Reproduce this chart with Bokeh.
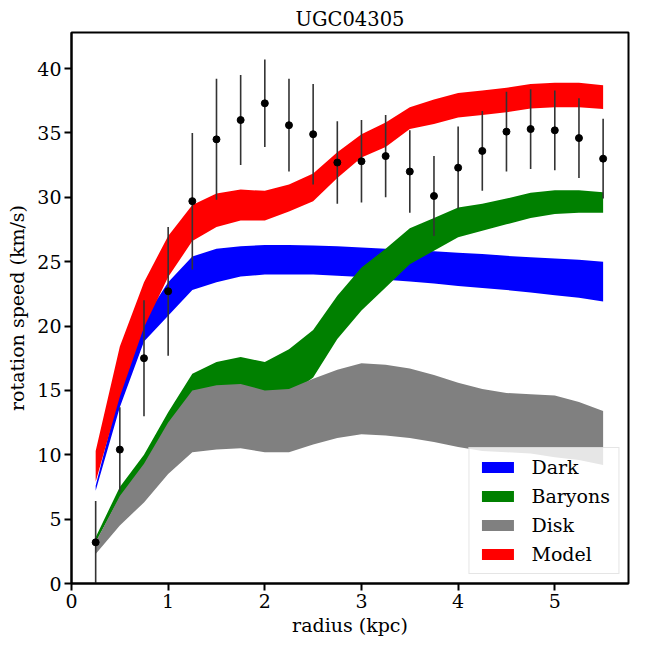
import numpy as np
from bokeh.plotting import figure
from bokeh.models import ColumnDataSource, Range1d, FixedTicker, Legend, LegendItem
from bokeh.embed import file_html
from bokeh.resources import INLINE

# radii (kpc)
radius = [0.25, 0.5, 0.75, 1.0, 1.25, 1.5, 1.75, 2.0, 2.25, 2.5, 2.75,
          3.0, 3.25, 3.5, 3.75, 4.0, 4.25, 4.5, 4.75, 5.0, 5.25, 5.5]

# observed rotation speed and errors (km/s)
v_obs = [3.2, 10.4, 17.5, 22.7, 29.7, 34.5, 36.0, 37.3, 35.6, 34.9, 32.7,
         32.8, 33.2, 32.0, 30.1, 32.3, 33.6, 35.1, 35.3, 35.2, 34.6, 33.0]
v_err = [3.2, 3.3, 4.5, 5.0, 5.3, 4.7, 3.5, 3.4, 3.6, 3.9, 3.2,
         3.2, 3.2, 3.2, 3.1, 3.2, 3.1, 3.1, 3.1, 3.1, 3.1, 3.1]

# bands (lower / upper)
dark_lo = [7.2, 13.7, 18.8, 20.8, 22.8, 23.4, 23.85, 24.0, 24.0, 24.0, 23.9,
           23.8, 23.6, 23.45, 23.3, 23.1, 22.95, 22.8, 22.6, 22.4, 22.2, 21.9]
dark_hi = [7.6, 15.0, 20.5, 23.4, 25.4, 26.0, 26.2, 26.3, 26.3, 26.25, 26.2,
           26.1, 26.0, 25.9, 25.8, 25.7, 25.6, 25.45, 25.35, 25.25, 25.15, 25.0]

bar_lo = [3.2, 6.7, 9.1, 12.2, 14.5, 14.8, 14.9, 14.5, 14.6, 16.0, 19.0,
          21.2, 23.0, 24.8, 25.85, 26.9, 27.4, 27.9, 28.4, 28.7, 28.8, 28.8]
bar_hi = [3.6, 7.5, 10.0, 13.3, 16.3, 17.2, 17.6, 17.2, 18.2, 19.7, 22.35,
          24.55, 26.0, 27.6, 28.4, 29.2, 29.5, 29.9, 30.35, 30.55, 30.55, 30.4]

disk_lo = [2.3, 4.5, 6.3, 8.5, 10.2, 10.4, 10.5, 10.2, 10.2, 10.8, 11.3,
           11.6, 11.5, 11.3, 11.0, 10.6, 10.3, 10.2, 10.1, 9.8, 9.6, 9.2]
disk_hi = [3.2, 6.8, 9.3, 12.5, 15.0, 15.4, 15.5, 15.0, 15.1, 15.9, 16.6,
           17.1, 17.0, 16.7, 16.2, 15.6, 15.1, 14.8, 14.7, 14.6, 14.1, 13.4]

model_lo = [7.9, 14.5, 19.9, 23.8, 26.6, 27.7, 28.2, 28.2, 28.9, 29.7, 31.5,
            33.1, 33.9, 35.3, 35.7, 36.2, 36.4, 36.6, 36.9, 37.0, 37.0, 36.85]
model_hi = [10.3, 18.4, 23.4, 27.0, 29.4, 30.3, 30.6, 30.5, 31.0, 31.85, 33.5,
            34.9, 35.8, 37.0, 37.6, 38.1, 38.3, 38.5, 38.8, 38.9, 38.9, 38.7]

x_ticks = [0, 1, 2, 3, 4, 5]
y_ticks = [0, 5, 10, 15, 20, 25, 30, 35, 40]

FONT = "'DejaVu Serif', serif"
FS = "19px"

p = figure(width=640, height=644, output_backend="svg", toolbar_location=None,
           x_range=Range1d(0, 5.7625), y_range=Range1d(0, 42.8),
           min_border_left=71, min_border_right=12, min_border_top=32,
           min_border_bottom=61, title="UGC04305")

p.title.align = "center"
p.title.text_font = FONT
p.title.text_font_size = "19.5px"
p.title.text_font_style = "normal"
p.title.text_color = "black"
p.title.standoff = 3
p.title.offset = 0

src = ColumnDataSource(dict(r=radius, v=v_obs,
                            lo=np.array(v_obs) - np.array(v_err),
                            hi=np.array(v_obs) + np.array(v_err),
                            dlo=dark_lo, dhi=dark_hi, blo=bar_lo, bhi=bar_hi,
                            klo=disk_lo, khi=disk_hi, mlo=model_lo, mhi=model_hi))

r_dark = p.varea(x="r", y1="dlo", y2="dhi", source=src, fill_color="#0000ff")
r_bar = p.varea(x="r", y1="blo", y2="bhi", source=src, fill_color="#008000")
r_disk = p.varea(x="r", y1="klo", y2="khi", source=src, fill_color="#808080")
r_model = p.varea(x="r", y1="mlo", y2="mhi", source=src, fill_color="#ff0000")

p.segment(x0="r", y0="lo", x1="r", y1="hi", source=src,
          line_color="#333333", line_width=1.6)
p.scatter(x="r", y="v", source=src, size=7, color="black")

legend = Legend(items=[LegendItem(label="Dark", renderers=[r_dark]),
                       LegendItem(label="Baryons", renderers=[r_bar]),
                       LegendItem(label="Disk", renderers=[r_disk]),
                       LegendItem(label="Model", renderers=[r_model])],
                location="bottom_right")
legend.label_text_font = FONT
legend.label_text_font_size = FS
legend.label_text_color = "black"
legend.glyph_width = 40
legend.glyph_height = 14
legend.label_height = 20
legend.label_standoff = 14
legend.spacing = 7
legend.padding = 8
legend.margin = 9
legend.border_line_color = "#cccccc"
legend.border_line_width = 1
legend.background_fill_alpha = 0.8
p.add_layout(legend, "center")

for ax in (p.xaxis[0], p.yaxis[0]):
    ax.major_label_text_font = FONT
    ax.major_label_text_font_size = FS
    ax.major_label_text_color = "black"
    ax.axis_label_text_font = FONT
    ax.axis_label_text_font_size = FS
    ax.axis_label_text_font_style = "normal"
    ax.axis_label_text_color = "black"
    ax.major_tick_out = 7
    ax.major_tick_in = 0
    ax.minor_tick_out = 0
    ax.minor_tick_in = 0
    ax.major_tick_line_width = 2
    ax.major_tick_line_color = "black"
    ax.axis_line_width = 2
    ax.axis_line_color = "black"
    ax.major_label_standoff = 3

p.xaxis.ticker = FixedTicker(ticks=x_ticks)
p.yaxis.ticker = FixedTicker(ticks=y_ticks)
p.xaxis.axis_label = "radius (kpc)"
p.yaxis.axis_label = "rotation speed (km/s)"
p.xaxis.axis_label_standoff = 3
p.yaxis.axis_label_standoff = 6

p.xgrid.visible = False
p.ygrid.visible = False
p.outline_line_color = "black"
p.outline_line_width = 2
p.outline_line_alpha = 1

open("out.html", "w").write(file_html(p, INLINE))
